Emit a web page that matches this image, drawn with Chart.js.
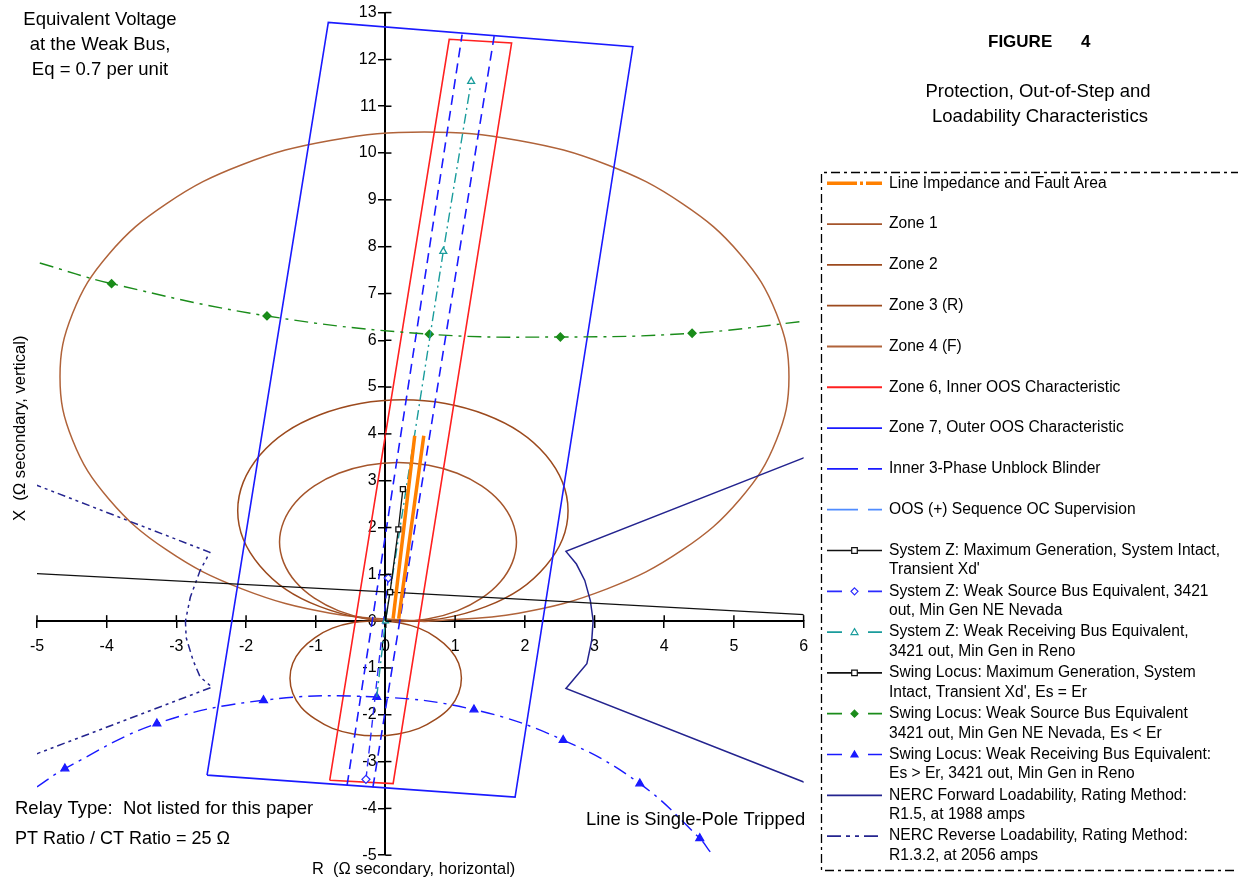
<!DOCTYPE html>
<html lang="en">
<head>
<meta charset="UTF-8">
<title>Figure 4 - Protection, Out-of-Step and Loadability Characteristics</title>
<script src="https://cdn.jsdelivr.net/npm/chart.js"></script>
<style>
  html, body { margin: 0; padding: 0; background: #fff; }
  #wrap { position: relative; width: 1238px; height: 879px; }
</style>
</head>
<body>
<div id="wrap"><canvas id="fig4" width="1238" height="879"></canvas></div>
<script>
// [R, X] points in ohms secondary
const impedance = [[0.11, 0.05], [0.42, 3.96], [null, null], [0.19, 0.05], [0.55, 3.96]]

const zone1 = [
  [0.18, -0.01], [0.62, 0.05], [1.03, 0.22], [1.38, 0.49], [1.65, 0.84], [1.82, 1.25],
  [1.88, 1.69], [1.82, 2.13], [1.65, 2.54], [1.38, 2.89], [1.03, 3.16], [0.62, 3.33],
  [0.18, 3.39], [-0.26, 3.33], [-0.67, 3.16], [-1.02, 2.89], [-1.29, 2.54], [-1.46, 2.13],
  [-1.52, 1.69], [-1.46, 1.25], [-1.29, 0.84], [-1.02, 0.49], [-0.67, 0.22], [-0.26, 0.05],
  [0.18, -0.01]
]
const zone2 = [
  [0.25, -0.01], [0.86, 0.07], [1.44, 0.31], [1.93, 0.68], [2.30, 1.18], [2.54, 1.75],
  [2.62, 2.36], [2.54, 2.97], [2.30, 3.55], [1.93, 4.04], [1.44, 4.41], [0.86, 4.65],
  [0.25, 4.73], [-0.36, 4.65], [-0.94, 4.41], [-1.43, 4.04], [-1.80, 3.55], [-2.04, 2.97],
  [-2.12, 2.36], [-2.04, 1.75], [-1.80, 1.18], [-1.43, 0.68], [-0.94, 0.31], [-0.36, 0.07],
  [0.25, -0.01]
]
const zone3R = [
  [-0.14, 0.01], [0.18, -0.03], [0.48, -0.15], [0.73, -0.35], [0.93, -0.61], [1.05, -0.90],
  [1.09, -1.22], [1.05, -1.54], [0.93, -1.84], [0.73, -2.09], [0.48, -2.29], [0.18, -2.41],
  [-0.14, -2.45], [-0.46, -2.41], [-0.76, -2.29], [-1.01, -2.09], [-1.21, -1.84], [-1.33, -1.54],
  [-1.37, -1.22], [-1.33, -0.90], [-1.21, -0.61], [-1.01, -0.35], [-0.76, -0.15], [-0.46, -0.03],
  [-0.14, 0.01]
]
const zone4F = [
  [0.56, -0.01], [1.91, 0.17], [3.18, 0.69], [4.26, 1.52], [5.09, 2.61], [5.61, 3.87],
  [5.79, 5.22], [5.61, 6.57], [5.09, 7.84], [4.26, 8.92], [3.18, 9.75], [1.91, 10.27],
  [0.56, 10.45], [-0.79, 10.27], [-2.06, 9.75], [-3.14, 8.92], [-3.97, 7.84], [-4.49, 6.57],
  [-4.67, 5.22], [-4.49, 3.87], [-3.97, 2.61], [-3.14, 1.52], [-2.06, 0.69], [-0.79, 0.17],
  [0.56, -0.01]
]
const zone6 = [[-0.80, -3.40], [0.915, 12.43], [1.81, 12.35], [0.11, -3.47], [-0.80, -3.40]]
const zone7 = [[-2.56, -3.29], [-0.82, 12.79], [3.55, 12.27], [1.86, -3.76], [-2.56, -3.29]]
const blinder = [[-0.55, -3.5], [1.10, 12.53], [null, null], [-0.18, -3.55], [1.56, 12.5]]

const sysZMax = [[0, 0], [0.066, 0.62], [0.185, 1.96], [0.25, 2.82]]
const sysZSource = [[-0.28, -3.38], [0.04, 0.92]]
const sysZReceiving = [[-0.125, -1.62], [0, 0], [0.83, 7.9], [1.23, 11.53]]

const swingMax = [[-5.05, 1.02], [0.066, 0.62], [6.02, 0.14]]
const swingSource = [[-4.96, 7.65], [-3.93, 7.21], [-1.70, 6.52], [0.63, 6.13], [2.51, 6.07], [4.40, 6.15], [6.03, 6.41]]
const swingReceiving = [
  [-5.0, -3.54], [-4.6, -3.15], [-3.28, -2.19], [-1.75, -1.69], [-0.125, -1.62],
  [1.27, -1.89], [2.55, -2.54], [3.65, -3.47], [4.51, -4.64], [4.66, -4.93]
]

const nercForward = [
  [6.04, 3.51], [2.59, 1.49], [2.74, 1.22], [2.86, 0.87], [2.94, 0.44], [2.98, 0.01],
  [2.96, -0.41], [2.89, -0.91], [2.59, -1.44], [6.06, -3.47]
]
const nercReverse = [
  [-5.05, 2.93], [-2.52, 1.47], [-2.66, 1.08], [-2.80, 0.51], [-2.87, 0.0], [-2.86, -0.35],
  [-2.76, -0.84], [-2.66, -1.19], [-2.49, -1.41], [-5.05, -2.86]
]

const legendLabels = [
  ["Line Impedance and Fault Area"],
  ["Zone 1"],
  ["Zone 2"],
  ["Zone 3 (R)"],
  ["Zone 4 (F)"],
  ["Zone 6, Inner OOS Characteristic"],
  ["Zone 7, Outer OOS Characteristic"],
  ["Inner 3-Phase Unblock Blinder"],
  ["OOS (+) Sequence OC Supervision"],
  ["System Z: Maximum Generation, System Intact,", "Transient Xd'"],
  ["System Z: Weak Source Bus Equivalent, 3421", "out, Min Gen NE Nevada"],
  ["System Z: Weak Receiving Bus Equivalent,", "3421 out, Min Gen in Reno"],
  ["Swing Locus: Maximum Generation, System", "Intact, Transient Xd', Es = Er"],
  ["Swing Locus: Weak Source Bus Equivalent", "3421 out, Min Gen NE Nevada, Es < Er"],
  ["Swing Locus: Weak Receiving Bus Equivalent:", "Es > Er, 3421 out, Min Gen in Reno"],
  ["NERC Forward Loadability, Rating Method:", "R1.5, at 1988 amps"],
  ["NERC Reverse Loadability, Rating Method:", "R1.3.2, at 2056 amps"]
]

const toXY = (pts) => pts.map(([r, x]) => ({ x: r, y: x }))

// line styles, one per legend row
const styles = [
  { color: "#ff8000", width: 3.5, dash: [], legendDash: [30, 3, 3, 3, 30, 50] },
  { color: "#a5552b", width: 1.5, dash: [] },
  { color: "#9c4a1e", width: 1.5, dash: [] },
  { color: "#9c4a1e", width: 1.5, dash: [] },
  { color: "#b0633a", width: 1.5, dash: [] },
  { color: "#ff2020", width: 1.6, dash: [] },
  { color: "#1a1aff", width: 1.6, dash: [] },
  { color: "#1a1aff", width: 1.6, dash: [10, 6], legendDash: [31, 10, 14, 50] },
  { color: "#4f8cff", width: 1.4, dash: [10, 6], legendDash: [31, 10, 14, 50] },
  { color: "#111111", width: 1.3, dash: [], marker: "rect", fill: "#ffffff" },
  { color: "#2a2aff", width: 1.4, dash: [8, 5], marker: "rectRot", fill: "#ffffff", legendDash: [15, 26, 14, 50] },
  { color: "#1a9c9c", width: 1.4, dash: [10, 4, 2, 4], marker: "triangle", fill: "#ffffff", legendDash: [15, 26, 14, 50] },
  { color: "#111111", width: 1.3, dash: [], marker: "rect", fill: "#ffffff" },
  { color: "#1a8c1a", width: 1.4, dash: [14, 6, 3, 6], marker: "rectRot", fill: "#1a8c1a", legendDash: [15, 26, 14, 50] },
  { color: "#1a1aff", width: 1.4, dash: [14, 6, 3, 6], marker: "triangle", fill: "#1a1aff", legendDash: [15, 26, 14, 50] },
  { color: "#24248f", width: 1.5, dash: [] },
  { color: "#24248f", width: 1.5, dash: [8, 4, 3, 4, 3, 4], legendDash: [14, 5, 4, 5, 4, 5, 14, 50] }
]

function series(pts, s, opts = {}) {
  return Object.assign({
    data: toXY(pts),
    showLine: true,
    borderColor: s.color,
    borderWidth: s.width,
    borderDash: s.dash,
    backgroundColor: s.fill || s.color,
    pointBorderColor: s.color,
    pointBackgroundColor: s.fill || s.color,
    pointStyle: s.marker || "circle",
    pointRadius: 0,
    pointBorderWidth: 1.3,
    tension: 0,
    fill: false
  }, opts)
}

// first dataset is drawn on top
const datasets = [
  series(impedance, styles[0]),
  series(sysZMax, styles[9], { pointRadius: [0, 3.5, 3.5, 3.5] }),
  series(sysZReceiving, styles[11], { pointRadius: [0, 3.5, 4, 4] }),
  series(sysZSource, styles[10], { pointRadius: 4 }),
  series(swingMax, styles[12], { pointRadius: [0, 3.5, 0] }),
  series(swingSource, styles[13], { pointRadius: [0, 4, 4, 4, 4, 4, 0], tension: 0.4 }),
  series(swingReceiving, styles[14], { pointRadius: [0, 4.5, 4.5, 4.5, 4.5, 4.5, 4.5, 4.5, 4.5, 0], tension: 0.4 }),
  series(blinder, styles[7]),
  series(zone6, styles[5]),
  series(zone7, styles[6]),
  series(nercForward, styles[15]),
  series(nercReverse, styles[16]),
  series(zone1, styles[1], { tension: 0.4 }),
  series(zone2, styles[2], { tension: 0.4 }),
  series(zone3R, styles[3], { tension: 0.4 }),
  series(zone4F, styles[4], { tension: 0.4 })
]

const FONT = "'Liberation Sans', Arial, sans-serif"

const notes = [
  { text: "Equivalent Voltage", x: 100, y: 20, align: "center", size: 18.5 },
  { text: "at the Weak Bus,", x: 100, y: 45, align: "center", size: 18.5 },
  { text: "Eq = 0.7 per unit", x: 100, y: 70, align: "center", size: 18.5 },
  { text: "FIGURE", x: 988, y: 42, align: "left", bold: true, size: 17 },
  { text: "4", x: 1081, y: 42, align: "left", bold: true, size: 17 },
  { text: "Protection, Out-of-Step and", x: 1038, y: 92, align: "center", size: 18.5 },
  { text: "Loadability Characteristics", x: 1040, y: 117, align: "center", size: 18.5 },
  { text: "Relay Type:  Not listed for this paper", x: 15, y: 809, align: "left", size: 18.5 },
  { text: "PT Ratio / CT Ratio = 25 \u03A9", x: 15, y: 839, align: "left", size: 18 },
  { text: "Line is Single-Pole Tripped", x: 586, y: 820, align: "left", size: 18.4 },
  { text: "R  (\u03A9 secondary, horizontal)", x: 312, y: 869, align: "left", size: 16.4 },
  { text: "X  (\u03A9 secondary, vertical)", x: 20, y: 521, align: "left", rotate: true, size: 16.6 }
]

function drawMarker(ctx, kind, x, y, r, stroke, fill) {
  ctx.beginPath()
  if (kind === "rect") {
    ctx.rect(x - r * 0.8, y - r * 0.8, r * 1.6, r * 1.6)
  } else if (kind === "rectRot") {
    ctx.moveTo(x, y - r); ctx.lineTo(x + r, y); ctx.lineTo(x, y + r); ctx.lineTo(x - r, y); ctx.closePath()
  } else if (kind === "triangle") {
    ctx.moveTo(x, y - r); ctx.lineTo(x + r, y + r * 0.7); ctx.lineTo(x - r, y + r * 0.7); ctx.closePath()
  }
  ctx.setLineDash([])
  ctx.fillStyle = fill
  ctx.fill()
  ctx.strokeStyle = stroke
  ctx.lineWidth = 1.2
  ctx.stroke()
}

const decorations = {
  id: "decorations",
  afterDatasetsDraw(chart) {
    const ctx = chart.ctx
    const xs = chart.scales.x
    const ys = chart.scales.y
    // tick marks on the inner side of the crossing axes
    ctx.save()
    ctx.strokeStyle = "#000"
    ctx.lineWidth = 1.5
    const x0 = xs.getPixelForValue(0)
    const y0 = ys.getPixelForValue(0)
    xs.ticks.forEach((t) => {
      const px = xs.getPixelForValue(t.value)
      ctx.beginPath(); ctx.moveTo(px, y0); ctx.lineTo(px, y0 - 6); ctx.stroke()
    })
    ys.ticks.forEach((t) => {
      const py = ys.getPixelForValue(t.value)
      ctx.beginPath(); ctx.moveTo(x0, py); ctx.lineTo(x0 + 6, py); ctx.stroke()
    })
    ctx.restore()
  },
  afterDraw(chart) {
    const ctx = chart.ctx
    ctx.save()
    ctx.fillStyle = "#000"
    ctx.textBaseline = "middle"
    notes.forEach((n) => {
      ctx.font = (n.bold ? "bold " : "") + n.size + "px " + FONT
      ctx.textAlign = n.align
      if (n.rotate) {
        ctx.save()
        ctx.translate(n.x, n.y)
        ctx.rotate(-Math.PI / 2)
        ctx.fillText(n.text, 0, 0)
        ctx.restore()
      } else {
        ctx.fillText(n.text, n.x, n.y)
      }
    })

    // legend box with dash-dot border
    ctx.strokeStyle = "#000"
    ctx.lineWidth = 1.3
    ctx.setLineDash([9, 4, 3, 4])
    ctx.beginPath()
    ctx.moveTo(1240, 172.5); ctx.lineTo(821.5, 172.5); ctx.lineTo(821.5, 870.5); ctx.lineTo(1240, 870.5)
    ctx.stroke()

    ctx.font = "15.6px " + FONT
    ctx.textAlign = "left"
    legendLabels.forEach((lines, i) => {
      const s = styles[i]
      const y = 183.3 + i * 40.8
      ctx.strokeStyle = s.color
      ctx.lineWidth = Math.min(s.width + 0.3, 3.5)
      ctx.setLineDash(s.legendDash || [])
      ctx.beginPath(); ctx.moveTo(827, y); ctx.lineTo(882, y); ctx.stroke()
      if (s.marker) drawMarker(ctx, s.marker, 854.5, y, 3.5, s.color, s.fill)
      ctx.fillStyle = "#000"
      lines.forEach((t, k) => ctx.fillText(t, 889, y + k * 19.5))
    })
    ctx.restore()
  }
}

Chart.defaults.font.family = FONT
Chart.defaults.font.size = 16
Chart.defaults.color = "#000"

new Chart(document.getElementById("fig4"), {
  type: "scatter",
  data: { datasets },
  options: {
    responsive: false,
    animation: false,
    events: [],
    layout: { padding: { left: 37, right: 434.4, top: 11, bottom: 23.8 } },
    plugins: { legend: { display: false }, tooltip: { enabled: false } },
    scales: {
      x: {
        type: "linear", min: -5, max: 6,
        position: { y: 0 },
        ticks: { stepSize: 1, padding: 10, color: "#000", maxRotation: 0, autoSkip: false },
        grid: { drawOnChartArea: false, drawTicks: true, tickLength: 6, color: "#000", lineWidth: 1.5 },
        border: { color: "#000", width: 2 }
      },
      y: {
        type: "linear", min: -5, max: 13,
        position: { x: 0 },
        ticks: { stepSize: 1, color: "#000", autoSkip: false, callback: (v) => v + "  " },
        grid: { drawOnChartArea: false, drawTicks: true, tickLength: 6, color: "#000", lineWidth: 1.5 },
        border: { color: "#000", width: 2 }
      }
    }
  },
  plugins: [decorations]
})
</script>
</body>
</html>
